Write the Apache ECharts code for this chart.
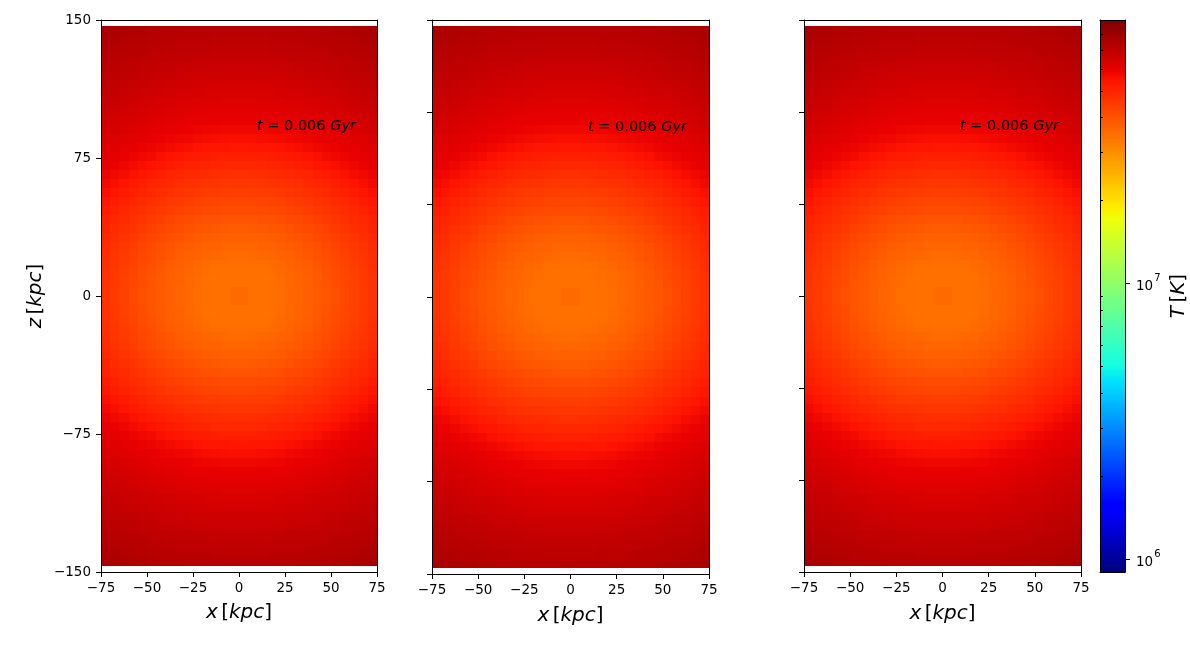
<!DOCTYPE html>
<html>
<head>
<meta charset="utf-8">
<style>html,body{margin:0;padding:0;background:#fff}#c{width:1190px;height:650px}</style>
<script src="https://cdn.jsdelivr.net/npm/echarts@6/dist/echarts.min.js"></script>
</head>
<body>
<div id="c"></div>
<script>
// Cell edges of one quadrant, kpc
const xEdges = [0,5,10,15,20,25,30,35,40,45,50,55,60,65,70,75];
const zEdges = [0,4.9,9.8,14.7,19.6,24.5,29.4,34.3,39.2,44.1,49,53.9,58.8,63.7,68.6,73.5,78.4,83.3,88.2,93.1,98,102.9,107.8,112.7,117.6,122.5,127.4,132.3,137.2,142.1,147];
// Temperature in units of 1e7 K; rows go outward in |z|, columns outward in |x|
const quadrantT = [
[3.56,3.45,3.45,3.47,3.52,3.59,3.65,3.74,3.84,3.95,4.07,4.21,4.34,4.49,4.65],
[3.45,3.45,3.46,3.49,3.54,3.60,3.67,3.76,3.86,3.97,4.09,4.22,4.36,4.51,4.66],
[3.46,3.46,3.48,3.52,3.57,3.63,3.70,3.79,3.89,4.00,4.12,4.25,4.39,4.53,4.69],
[3.49,3.50,3.52,3.57,3.62,3.67,3.75,3.83,3.93,4.04,4.17,4.30,4.43,4.58,4.73],
[3.55,3.57,3.59,3.63,3.67,3.73,3.81,3.90,4.00,4.11,4.23,4.35,4.49,4.63,4.78],
[3.63,3.64,3.67,3.70,3.75,3.82,3.89,3.98,4.07,4.18,4.30,4.42,4.56,4.70,4.84],
[3.72,3.73,3.76,3.80,3.85,3.91,3.98,4.07,4.17,4.27,4.39,4.51,4.64,4.78,4.92],
[3.83,3.85,3.87,3.91,3.96,4.02,4.09,4.18,4.27,4.37,4.49,4.61,4.74,4.87,5.00],
[3.96,3.97,4.00,4.03,4.08,4.14,4.21,4.30,4.39,4.49,4.60,4.72,4.84,4.96,5.10],
[4.10,4.11,4.13,4.17,4.22,4.28,4.34,4.42,4.51,4.61,4.72,4.83,4.95,5.07,5.22],
[4.25,4.26,4.28,4.32,4.36,4.42,4.49,4.57,4.65,4.75,4.85,4.95,5.07,5.20,5.35],
[4.41,4.42,4.44,4.48,4.52,4.58,4.65,4.72,4.81,4.90,5.00,5.11,5.23,5.38,5.53],
[4.58,4.59,4.61,4.65,4.69,4.75,4.81,4.88,4.97,5.05,5.17,5.28,5.42,5.57,5.71],
[4.75,4.76,4.79,4.82,4.87,4.92,4.98,5.05,5.14,5.24,5.36,5.49,5.63,5.76,5.87],
[4.93,4.94,4.96,5.00,5.03,5.09,5.16,5.24,5.34,5.45,5.57,5.70,5.81,5.91,5.99],
[5.11,5.12,5.15,5.18,5.23,5.29,5.37,5.46,5.56,5.67,5.77,5.86,5.95,6.03,6.10],
[5.32,5.34,5.36,5.40,5.46,5.52,5.60,5.68,5.77,5.85,5.93,6.00,6.07,6.14,6.21],
[5.56,5.57,5.59,5.63,5.68,5.74,5.80,5.86,5.93,5.99,6.05,6.11,6.18,6.25,6.33],
[5.78,5.79,5.80,5.83,5.86,5.91,5.95,6.00,6.05,6.10,6.16,6.22,6.29,6.37,6.45],
[5.94,5.94,5.96,5.97,6.00,6.03,6.07,6.11,6.16,6.21,6.27,6.34,6.42,6.50,6.58],
[6.06,6.07,6.08,6.10,6.12,6.15,6.19,6.23,6.28,6.33,6.39,6.46,6.53,6.61,6.68],
[6.18,6.19,6.20,6.22,6.24,6.27,6.31,6.35,6.40,6.46,6.51,6.58,6.65,6.71,6.79],
[6.31,6.31,6.33,6.34,6.37,6.40,6.44,6.48,6.53,6.58,6.63,6.69,6.75,6.82,6.89],
[6.45,6.45,6.46,6.48,6.50,6.53,6.57,6.61,6.65,6.70,6.75,6.81,6.87,6.93,7.00],
[6.58,6.59,6.60,6.61,6.63,6.66,6.69,6.73,6.77,6.82,6.87,6.92,6.98,7.03,7.09],
[6.71,6.72,6.73,6.74,6.76,6.79,6.82,6.85,6.89,6.94,6.98,7.03,7.07,7.13,7.19],
[6.84,6.84,6.85,6.87,6.89,6.91,6.94,6.98,7.00,7.04,7.08,7.13,7.18,7.23,7.28],
[6.96,6.97,6.98,6.99,7.01,7.03,7.05,7.08,7.11,7.15,7.19,7.23,7.28,7.33,7.38],
[7.07,7.08,7.08,7.10,7.12,7.13,7.16,7.19,7.22,7.26,7.29,7.33,7.38,7.43,7.49],
[7.19,7.19,7.20,7.21,7.23,7.25,7.27,7.29,7.33,7.36,7.40,7.44,7.49,7.54,7.59]
];
const cbarMajor = [1e6,1e7];
const cbarMinor = [2e6,3e6,4e6,5e6,6e6,7e6,8e6,9e6,2e7,3e7,4e7,5e7,6e7,7e7,8e7,9e7];
const tMin = 9e5, tMax = 9.04e7;

const FONT = 'DejaVu Sans';
const logMin = Math.log10(tMin), logMax = Math.log10(tMax);

// matplotlib "jet" breakpoints
const jetR = [[0,0],[.35,0],[.66,1],[.89,1],[1,.5]];
const jetG = [[0,0],[.125,0],[.375,1],[.64,1],[.91,0],[1,0]];
const jetB = [[0,.5],[.11,1],[.34,1],[.65,0],[1,0]];
function seg(tbl,t){for(let i=1;i<tbl.length;i++){if(t<=tbl[i][0]){const a=tbl[i-1],b=tbl[i];return a[1]+(b[1]-a[1])*(t-a[0])/(b[0]-a[0]);}}return tbl[tbl.length-1][1];}
const jet=[];for(let i=0;i<256;i++){const t=i/255;jet.push('rgb('+[jetR,jetG,jetB].map(s=>Math.round(seg(s,t)*255)).join(',')+')');}

// Cells: [x0,x1,z0,z1,log10 T], mirrored into four quadrants
const cells=[];
quadrantT.forEach((row,r)=>row.forEach((T,c)=>{
  const lg=7+Math.log10(T);
  [1,-1].forEach(sx=>[1,-1].forEach(sz=>{
    cells.push([sx*xEdges[c],sx*xEdges[c+1],sz*zEdges[r],sz*zEdges[r+1],lg]);
  }));
}));
const barCells=[];
for(let i=0;i<256;i++){
  const a=logMin+(logMax-logMin)*i/256,b=logMin+(logMax-logMin)*(i+1)/256;
  barCells.push([0,1,a,b,(a+b)/2]);
}
function renderCell(params,api){
  const p0=api.coord([api.value(0),api.value(2)]);
  const p1=api.coord([api.value(1),api.value(3)]);
  const x=Math.round(Math.min(p0[0],p1[0])),X=Math.round(Math.max(p0[0],p1[0]));
  const y=Math.round(Math.min(p0[1],p1[1])),Y=Math.round(Math.max(p0[1],p1[1]));
  return {type:'rect',shape:{x:x,y:y,width:X-x,height:Y-y},style:{fill:api.visual('color')}};
}
const minus=v=>String(v).replace('-','\u2212');
const nameRich={i:{fontFamily:FONT,fontStyle:'italic',fontSize:20,color:'#000'},r:{fontFamily:FONT,fontSize:20,color:'#000'}};
const labelStyle={fontFamily:FONT,fontSize:13.5,color:'#000'};
const lineStyle={show:true,onZero:false,lineStyle:{color:'#000',width:1}};

const panels=[
 {left:101,width:276,top:20,height:552,zInterval:75,labels:true,nameGap:31,tx:257,ty:128},
 {left:432,width:277,top:20,height:554,zInterval:50,labels:false,nameGap:32,tx:588,ty:129},
 {left:804,width:277,top:20,height:552,zInterval:50,labels:false,nameGap:32,tx:960,ty:128}
];
const grid=[],xAxis=[],yAxis=[],series=[],graphic=[];
panels.forEach((p,i)=>{
  grid.push({left:p.left,top:p.top,width:p.width,height:p.height,containLabel:false});
  xAxis.push({type:'value',gridIndex:i,position:'bottom',min:-75,max:75,interval:25,z:5,
    name:'{i|x} {r|[}{i|kpc}{r|]}',nameLocation:'middle',nameGap:p.nameGap,nameTextStyle:{rich:nameRich},
    axisLine:lineStyle,axisTick:{show:true,length:5,lineStyle:{color:'#000',width:1}},
    axisLabel:{...labelStyle,margin:9,showMinLabel:true,showMaxLabel:true,hideOverlap:false,formatter:minus},splitLine:{show:false}});
  xAxis.push({type:'value',gridIndex:i,position:'top',min:-75,max:75,z:5,axisLine:lineStyle,axisTick:{show:false},axisLabel:{show:false},splitLine:{show:false}});
  const yIdx=yAxis.length;
  yAxis.push({type:'value',gridIndex:i,position:'left',min:-150,max:150,interval:p.zInterval,z:5,
    name:p.labels?'{i|z} {r|[}{i|kpc}{r|]}':'',nameLocation:'middle',nameGap:55,nameRotate:90,nameTextStyle:{rich:nameRich},
    axisLine:lineStyle,axisTick:{show:true,length:5,lineStyle:{color:'#000',width:1}},
    axisLabel:{...labelStyle,show:p.labels,margin:10,padding:[2,0,0,0],showMinLabel:true,showMaxLabel:true,hideOverlap:false,formatter:minus},splitLine:{show:false}});
  yAxis.push({type:'value',gridIndex:i,position:'right',min:-150,max:150,z:5,axisLine:lineStyle,axisTick:{show:false},axisLabel:{show:false},splitLine:{show:false}});
  series.push({type:'custom',coordinateSystem:'cartesian2d',xAxisIndex:i*2,yAxisIndex:yIdx,data:cells,
    encode:{x:[0,1],y:[2,3]},renderItem:renderCell,silent:true,clip:true,animation:false,progressive:0,z:2});
  graphic.push({type:'text',left:p.tx,top:p.ty-9,z:20,style:{
    text:'{i|t}{r| = 0.006 }{i|Gyr}',
    rich:{i:{fontFamily:FONT,fontStyle:'italic',fontSize:14.5,fill:'#000'},r:{fontFamily:FONT,fontSize:14.5,fill:'#000'}}
  }});
});
// colour bar
const gi=3, xi=xAxis.length, yi=yAxis.length;
grid.push({left:1100,top:20,width:28,height:552});
xAxis.push({type:'value',gridIndex:gi,position:'bottom',min:0,max:1,z:5,axisLine:lineStyle,axisTick:{show:false},axisLabel:{show:false},splitLine:{show:false}});
xAxis.push({type:'value',gridIndex:gi,position:'top',min:0,max:1,z:5,axisLine:lineStyle,axisTick:{show:false},axisLabel:{show:false},splitLine:{show:false}});
yAxis.push({type:'value',gridIndex:gi,position:'left',min:logMin,max:logMax,z:5,axisLine:lineStyle,axisTick:{show:false},axisLabel:{show:false},splitLine:{show:false}});
yAxis.push({type:'value',gridIndex:gi,position:'right',min:logMin,max:logMax,z:5,
  name:'{i|T} {r|[}{i|K}{r|]}',nameLocation:'middle',nameGap:44,nameRotate:90,nameTextStyle:{rich:nameRich},
  axisLine:lineStyle,
  axisTick:{show:true,length:5,customValues:cbarMajor.map(Math.log10),lineStyle:{color:'#000',width:1}},
  axisLabel:{show:true,margin:11,customValues:cbarMajor.map(Math.log10),
    formatter:v=>'{b|10}{s|'+Math.round(v)+'}',
    rich:{b:{fontFamily:FONT,fontSize:13.5,color:'#000',lineHeight:20,verticalAlign:'bottom'},s:{fontFamily:FONT,fontSize:10,color:'#000',lineHeight:20,verticalAlign:'top',padding:[0,0,0,1]}}},
  splitLine:{show:false}});
yAxis.push({type:'value',gridIndex:gi,position:'right',min:logMin,max:logMax,z:5,
  axisLine:{show:false},
  axisTick:{show:true,length:3,customValues:cbarMinor.map(Math.log10),lineStyle:{color:'#000',width:1}},
  axisLabel:{show:false},splitLine:{show:false}});
series.push({type:'custom',coordinateSystem:'cartesian2d',xAxisIndex:xi,yAxisIndex:yi,data:barCells,
  encode:{x:[0,1],y:[2,3]},renderItem:renderCell,silent:true,animation:false,progressive:0,z:2});

const chart=echarts.init(document.getElementById('c'),null,{renderer:'canvas',width:1190,height:650});
chart.setOption({
  animation:false,backgroundColor:'#fff',
  grid,xAxis,yAxis,series,graphic,
  visualMap:{type:'continuous',show:false,min:logMin,max:logMax,dimension:4,seriesIndex:[0,1,2,3],inRange:{color:jet}}
});
</script>
</body>
</html>
